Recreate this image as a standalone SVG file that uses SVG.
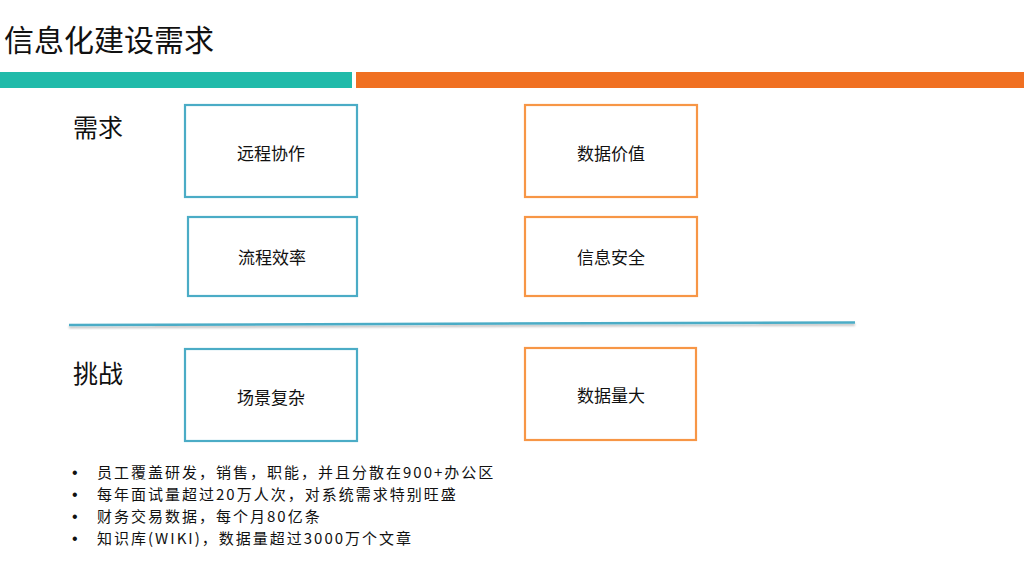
<svg xmlns="http://www.w3.org/2000/svg" width="1024" height="577" viewBox="0 0 1024 577">
<defs>
<style>
text{font-family:"Noto Sans CJK SC","Noto Sans",sans-serif;fill:#111}
.box{fill:#fff;stroke-width:2.2}
.blue{stroke:#4BACC6}
.orange{stroke:#F79646}
.lbl{font-size:17px;text-anchor:middle;dominant-baseline:central}
.sec{font-size:25px}
.bul{font-size:15px;letter-spacing:2px}
.dot{font-family:"Liberation Sans",sans-serif;font-size:16px}
</style>
<filter id="sh" x="-5%" y="-200%" width="110%" height="500%"><feDropShadow dx="0" dy="2" stdDeviation="1.2" flood-color="#000" flood-opacity="0.25"/></filter>
</defs>
<rect width="1024" height="577" fill="#fff"/>
<text x="4" y="51" style="font-size:30px">信息化建设需求</text>
<rect x="0" y="72" width="352" height="16" fill="#21BBAA"/>
<rect x="356" y="72" width="668" height="16" fill="#F07022"/>
<text class="sec" x="73" y="137">需求</text>
<text class="sec" x="73" y="383">挑战</text>
<g id="connectors">
<line x1="69" y1="325" x2="855" y2="322.5" stroke="#4BACC6" stroke-width="2.5" filter="url(#sh)"/>
</g>
<g id="n1"><rect class="box blue" x="185" y="105" width="172" height="92"/><text class="lbl" x="271" y="152">远程协作</text></g>
<g id="n2"><rect class="box blue" x="188" y="217" width="169" height="79"/><text class="lbl" x="272" y="256">流程效率</text></g>
<g id="n3"><rect class="box orange" x="525" y="105" width="172" height="92"/><text class="lbl" x="611" y="152">数据价值</text></g>
<g id="n4"><rect class="box orange" x="525" y="217" width="172" height="79"/><text class="lbl" x="611" y="256">信息安全</text></g>
<g id="n5"><rect class="box blue" x="185" y="349" width="172" height="92"/><text class="lbl" x="271" y="396">场景复杂</text></g>
<g id="n6"><rect class="box orange" x="525" y="348" width="171" height="92"/><text class="lbl" x="611" y="394">数据量大</text></g>
<g id="bullets">
<text class="dot"><tspan x="72" y="478">•</tspan><tspan x="72" y="500">•</tspan><tspan x="72" y="522">•</tspan><tspan x="72" y="544">•</tspan></text>
<text class="bul"><tspan x="97" y="478">员工覆盖研发，销售，职能，并且分散在900+办公区</tspan><tspan x="97" y="500">每年面试量超过20万人次，对系统需求特别旺盛</tspan><tspan x="97" y="522">财务交易数据，每个月80亿条</tspan><tspan x="97" y="544">知识库(WIKI)，数据量超过3000万个文章</tspan></text>
</g>
</svg>
